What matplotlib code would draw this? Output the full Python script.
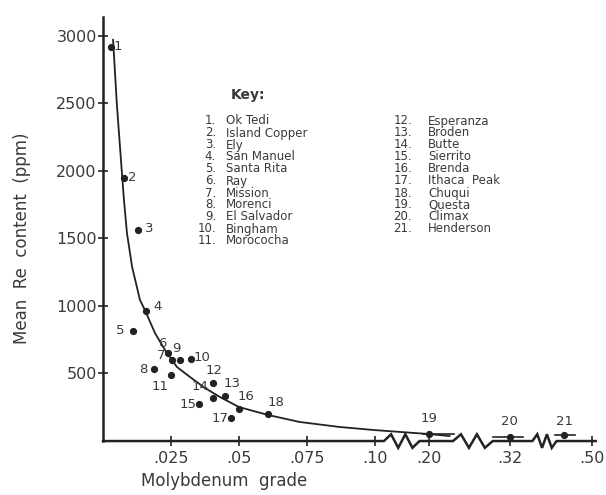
import numpy as np
import matplotlib
matplotlib.use("Agg")
import matplotlib.pyplot as plt

# mine data: molybdenum grade (%) vs mean Re content (ppm)
mine_ids = list(range(1, 22))
key_names = ["Ok Tedi", "Island Copper", "Ely", "San Manuel", "Santa Rita", "Ray",
             "Mission", "Morenci", "El Salvador", "Bingham", "Morococha",
             "Esperanza", "Broden", "Butte", "Sierrito", "Brenda", "Ithaca  Peak",
             "Chuqui", "Questa", "Climax", "Henderson"]
mo_grade = [0.0029, 0.0077, 0.0129, 0.0158, 0.0110, 0.0240, 0.0254, 0.0188, 0.0285,
            0.0324, 0.0250, 0.0404, 0.0449, 0.0404, 0.0353, 0.0500, 0.0470, 0.0607,
            0.20, 0.32, 0.44]
re_ppm = [2920, 1948, 1563, 963, 815, 650, 600, 533, 600, 607, 489, 430, 333, 319,
          274, 237, 170, 200, 52, 30, 44]

# horizontal range bars on the molybdenum deposits
bar_ids = [19, 20, 21]
bar_lo = [0.19, 0.296, 0.419]
bar_hi = [0.238, 0.349, 0.463]

# hand-drawn trend curve
curve_grade = [0.0037, 0.0051, 0.0066, 0.0077, 0.0088, 0.0107, 0.0136, 0.0154,
               0.0191, 0.0228, 0.0272, 0.0320, 0.0375, 0.0430, 0.0500, 0.0607,
               0.0724, 0.0871, 0.10, 0.20, 0.231]
curve_ppm = [2970, 2489, 2081, 1785, 1541, 1289, 1044, 970, 800, 674, 548, 474, 393,
             326, 252, 193, 141, 104, 81, 52, 37]

xticks = [0.025, 0.05, 0.075, 0.10, 0.20, 0.32, 0.50]
xtick_labels = [".025", ".05", ".075", ".10", ".20", ".32", ".50"]
yticks = [500, 1000, 1500, 2000, 2500, 3000]

# broken x axis: linear up to .10, compressed beyond
knots_in = [-1.0, 0.0, 0.10, 0.20, 0.32, 0.50, 1.0]
knots_out = [-1.0, 0.0, 0.10, 0.11985, 0.14963, 0.17978, 0.2635]


def fwd(x):
    return np.interp(x, knots_in, knots_out)


def inv(x):
    return np.interp(x, knots_out, knots_in)


ink = "#222222"
txt = "#3a3a3a"

fig = plt.figure(figsize=(6.06, 4.95), dpi=100)
ax = fig.add_axes([0.170, 0.109, 0.813, 0.857])
ax.set_xscale("function", functions=(fwd, inv))
ax.set_xlim(0, 0.509)
ax.set_ylim(0, 3140)

ax.plot(curve_grade, curve_ppm, color=ink, lw=1.3)
ax.plot(mo_grade, re_ppm, "o", color=ink, ms=4.2)

for i, lo, hi in zip(bar_ids, bar_lo, bar_hi):
    ax.plot([lo, hi], [re_ppm[i - 1], re_ppm[i - 1]], color=ink, lw=1.2)

# label offsets (points) for each mine number
offs = [(5, 0), (6, 0), (8, 1), (8, 3), (-9, 0), (-4, 7), (-8, 3), (-8, 0), (-3, 8),
        (8, 1), (-8, -8), (1, 9), (5, 9), (-9, 8), (-8, 0), (5, 9), (-8, 0),
        (6, 8), (0, 11), (0, 11), (0, 10)]
for i, (dx, dy) in zip(mine_ids, offs):
    ax.annotate(str(i), (mo_grade[i - 1], re_ppm[i - 1]), xytext=(dx, dy),
                textcoords="offset points", ha="center", va="center",
                fontsize=9.5, color=txt)

# axes styling
for s in ["top", "right", "bottom"]:
    ax.spines[s].set_visible(False)
ax.spines["left"].set_linewidth(1.8)
ax.spines["left"].set_color(ink)
ax.set_xticks(xticks)
ax.set_xticklabels(xtick_labels)
ax.set_yticks(yticks)
ax.tick_params(axis="both", direction="inout", length=7, width=1.2, color=ink,
               labelsize=11.5, labelcolor=txt)
ax.tick_params(axis="x", pad=4)
ax.tick_params(axis="y", pad=1)

# bottom axis with zig-zag breaks
breaks = [(0.117, 0.183), (0.236, 0.295), (0.37, 0.423)]
amp = 0.016
zig = [0, amp, -amp, amp, -amp, 0]
bx, by = [0.0], [0.0]
for lo, hi in breaks:
    seg = inv(np.linspace(fwd(lo), fwd(hi), len(zig)))
    bx.extend(seg)
    by.extend(zig)
bx.append(0.509)
by.append(0.0)
ax.plot(bx, by, color=ink, lw=1.8, transform=ax.get_xaxis_transform(),
        clip_on=False, solid_joinstyle="miter")

# key
fig.text(248 / 606, 1 - 95 / 495, "Key:", ha="center", va="center", fontsize=10,
         color=txt, fontweight="semibold")
for k, name in enumerate(key_names):
    col = 0 if k < 11 else 1
    row = k if k < 11 else k - 11
    yy = 1 - (121 + 12 * row) / 495
    xn = (216 if col == 0 else 412) / 606
    xl = (226 if col == 0 else 428) / 606
    fig.text(xn, yy, f"{k + 1}.", ha="right", va="center", fontsize=8.5, color=txt)
    fig.text(xl, yy, name, ha="left", va="center", fontsize=8.5, color=txt)

fig.text(22 / 606, 1 - 238 / 495, "Mean  Re  content  (ppm)", rotation=90,
         ha="center", va="center", fontsize=12, color=txt)
fig.text(224 / 606, 1 - 481 / 495, "Molybdenum  grade", ha="center", va="center",
         fontsize=12, color=txt)

fig.savefig("out.png", dpi=100, facecolor="white")
